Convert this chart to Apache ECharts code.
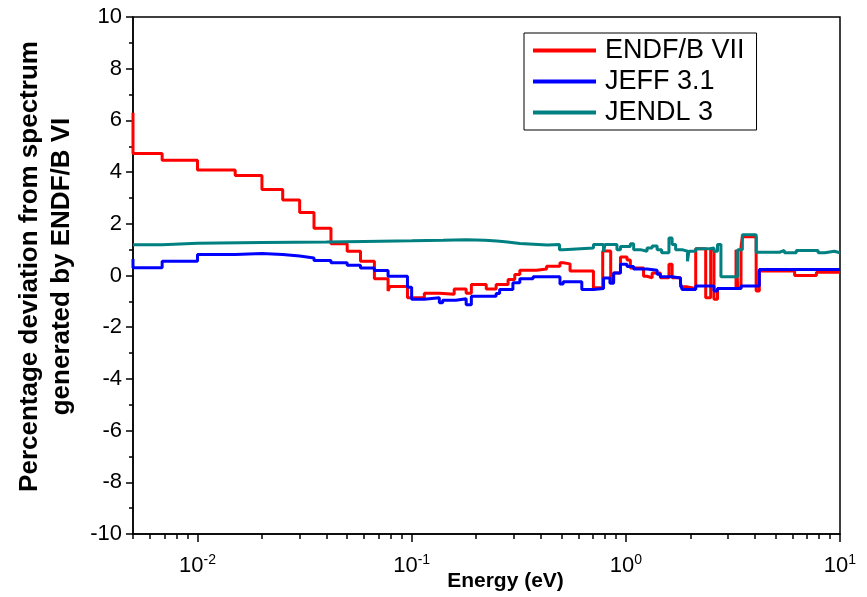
<!DOCTYPE html>
<html>
<head>
<meta charset="utf-8">
<script src="https://cdn.jsdelivr.net/npm/echarts@6/dist/echarts.min.js"></script>
<style>
	html, body { margin: 0; padding: 0; background: #fff; }
	#chart { width: 867px; height: 597px; }
</style>
</head>
<body>
<div id="chart"></div>
<script>
	// energies (eV) where each step starts, and the deviation (%) held from there
	var endfE = [0.005, 0.005, 0.00684, 0.01, 0.015, 0.02, 0.025, 0.030, 0.035, 0.042, 0.050, 0.0577, 0.067, 0.0776, 0.079, 0.0956, 0.1146, 0.1347, 0.158, 0.1797, 0.19, 0.223, 0.248, 0.282, 0.303, 0.32, 0.383, 0.4266, 0.4926, 0.51, 0.549, 0.706, 0.78, 0.85, 0.877, 0.944, 1.013, 1.05, 1.21, 1.256, 1.327, 1.45, 1.59, 1.645, 1.80, 1.94, 2.12, 2.36, 2.49, 2.58, 2.68, 3.27, 3.33, 3.45, 3.5, 4.06, 4.2, 6.14, 7.76, 10];
	var endfV = [6.3, 4.72, 4.46, 4.08, 3.87, 3.33, 2.92, 2.44, 1.83, 1.23, 0.94, 0.55, -0.13, -0.6, -0.43, -0.86, -0.69, -0.73, -0.52, -0.69, -0.35, -0.52, -0.35, -0.15, 0.04, 0.2, 0.25, 0.36, 0.49, 0.45, 0.17, -0.47, 0.95, -0.22, 0.1, 0.72, 0.6, 0.29, -0.03, -0.09, 0.1, -0.09, 0.44, -0.09, -0.44, -0.5, 1.03, -0.86, 1.0, -0.92, -0.5, 1.0, -0.5, 1.1, 1.5, -0.6, 0.17, 0, 0.13, 0.13];

	var jeffE = [0.005, 0.005, 0.00684, 0.01, 0.015, 0.02, 0.025, 0.03, 0.035, 0.042, 0.05, 0.0577, 0.067, 0.0776, 0.0956, 0.1, 0.1146, 0.1347, 0.1396, 0.161, 0.1797, 0.19, 0.248, 0.2575, 0.297, 0.32, 0.369, 0.4926, 0.51, 0.623, 0.706, 0.787, 0.843, 0.877, 0.944, 1.013, 1.088, 1.256, 1.40, 1.45, 1.645, 1.80, 1.83, 2.12, 2.58, 2.68, 3.27, 3.45, 4.2, 10];
	var jeffV = [0.64, 0.3, 0.55, 0.81, 0.85, 0.81, 0.75, 0.68, 0.58, 0.49, 0.4, 0.29, 0.19, -0.03, -0.45, -0.92, -0.86, -1.05, -0.96, -0.9, -1.13, -0.8, -0.7, -0.54, -0.28, -0.13, -0.05, -0.33, -0.24, -0.54, -0.5, -0.1, -0.3, 0.1, 0.44, 0.35, 0.25, 0.2, 0.05, -0.05, -0.1, -0.3, -0.54, -0.41, -0.6, -0.5, -0.5, -0.41, 0.23, 0.23];

	var jendlE = [0.005, 0.00684, 0.01, 0.02, 0.04, 0.06, 0.1, 0.14, 0.18, 0.22, 0.25, 0.28, 0.32, 0.43, 0.49, 0.51, 0.706, 0.787, 0.8, 0.909, 0.944, 1.05, 1.088, 1.17, 1.256, 1.327, 1.40, 1.47, 1.59, 1.645, 1.708, 1.83, 1.94, 1.97, 2.12, 2.43, 2.58, 2.68, 2.78, 3.33, 3.5, 4.06, 5.22, 5.5, 6.25, 7.9, 8.5, 9.4, 10];
	var jendlV = [1.19, 1.25, 1.28, 1.3, 1.32, 1.34, 1.36, 1.38, 1.36, 1.33, 1.3, 1.24, 1.18, 1.2, 1.0, 1.06, 1.2, 0.92, 1.2, 1.0, 1.12, 1.23, 1.0, 0.94, 1.06, 1.14, 1.0, 0.88, 1.45, 1.2, 1.0, 0.94, 0.55, 0.94, 1.03, 1.06, 0.94, 1.2, -0.05, 1.0, 1.58, 0.9, 0.97, 0.88, 0.97, 0.88, 0.94, 0.88, 0.88];

	var seriesNames = ['ENDF/B VII', 'JEFF 3.1', 'JENDL 3'];
	var seriesColors = ['#ff0000', '#0000ff', '#008080'];
	var xMajorTicks = [0.01, 0.1, 1, 10];

	// log minor ticks: 2..9 of each decade inside the range
	var xMinorTicks = [];
	[0.001, 0.01, 0.1, 1].forEach(function(d) {
		for (var k = 2; k <= 9; k++) {
			var v = +(k * d).toPrecision(3);
			if (v >= 0.005 && v <= 10) xMinorTicks.push(v);
		}
	});

	function pairs(xs, ys) {
		return xs.map(function(x, i) { return [x, ys[i]]; });
	}

	var font = '"Liberation Sans", Arial, sans-serif';
	var myChart = echarts.init(document.getElementById('chart'));
	var option = {
		animation: false,
		textStyle: { fontFamily: font, color: '#000' },
		grid: {
			left: 133, right: 27, top: 17, bottom: 63,
			outerBoundsMode: 'none', containLabel: false,
			show: true, borderColor: '#000', borderWidth: 1.5, backgroundColor: 'transparent'
		},
		legend: {
			orient: 'vertical',
			left: 524, top: 33,
			padding: [4, 12, 4, 9],
			borderColor: '#000', borderWidth: 1,
			icon: 'rect', itemWidth: 63, itemHeight: 4, itemGap: 4,
			textStyle: { fontSize: 27, fontFamily: font, color: '#000', padding: [0, 0, 0, 4] },
			data: seriesNames
		},
		xAxis: [{
			type: 'log', logBase: 10, min: 0.005, max: 10,
			name: 'Energy (eV)', nameLocation: 'middle', nameGap: 37, nameMoveOverlap: false,
			nameTextStyle: { fontSize: 21, fontWeight: 'bold', color: '#000', padding: [0, 0, 0, 38] },
			axisLine: { onZero: false, lineStyle: { color: '#000', width: 1.5 } },
			axisTick: { inside: false, length: 8, lineStyle: { color: '#000', width: 1.5 }, customValues: xMajorTicks },
			axisLabel: {
				margin: 19, color: '#000', customValues: xMajorTicks,
				formatter: function(v) {
					return '{b|10}{s|' + Math.round(Math.log10(v)) + '}';
				},
				rich: {
					b: { fontSize: 22, color: '#000', fontFamily: font },
					s: { fontSize: 14, color: '#000', fontFamily: font, padding: [0, 0, 12, 0] }
				}
			},
			splitLine: { show: false },
			minorSplitLine: { show: false }
		}, {
			type: 'log', logBase: 10, min: 0.005, max: 10, position: 'bottom',
			axisLine: { show: false, onZero: false },
			axisTick: { inside: false, length: 5, lineStyle: { color: '#000', width: 1.5 }, customValues: xMinorTicks },
			axisLabel: { show: false },
			splitLine: { show: false }
		}],
		yAxis: {
			type: 'value', min: -10, max: 10, interval: 2,
			name: 'Percentage deviation from spectrum\ngenerated by ENDF/B VI',
			nameLocation: 'middle', nameGap: 55, nameMoveOverlap: false,
			nameTextStyle: { fontSize: 26, fontWeight: 'bold', color: '#000', lineHeight: 32, padding: [0, 0, 0, 18] },
			axisLine: { show: true, onZero: false, lineStyle: { color: '#000', width: 1.5 } },
			axisTick: { inside: false, length: 7, lineStyle: { color: '#000', width: 1.5 } },
			minorTick: { show: true, splitNumber: 2, length: 4, lineStyle: { color: '#000', width: 1.5 } },
			axisLabel: { fontSize: 22, color: '#000', margin: 11 },
			splitLine: { show: false }
		},
		series: [
			{ name: seriesNames[0], type: 'line', step: 'end', showSymbol: false, color: seriesColors[0],
				lineStyle: { width: 3, color: seriesColors[0] }, data: pairs(endfE, endfV) },
			{ name: seriesNames[1], type: 'line', step: 'end', showSymbol: false, color: seriesColors[1],
				lineStyle: { width: 3, color: seriesColors[1] }, data: pairs(jeffE, jeffV) },
			{ name: seriesNames[2], type: 'line', step: 'end', showSymbol: false, color: seriesColors[2],
				lineStyle: { width: 3, color: seriesColors[2] }, data: pairs(jendlE, jendlV) }
		]
	};
	myChart.setOption(option);
</script>
</body>
</html>
